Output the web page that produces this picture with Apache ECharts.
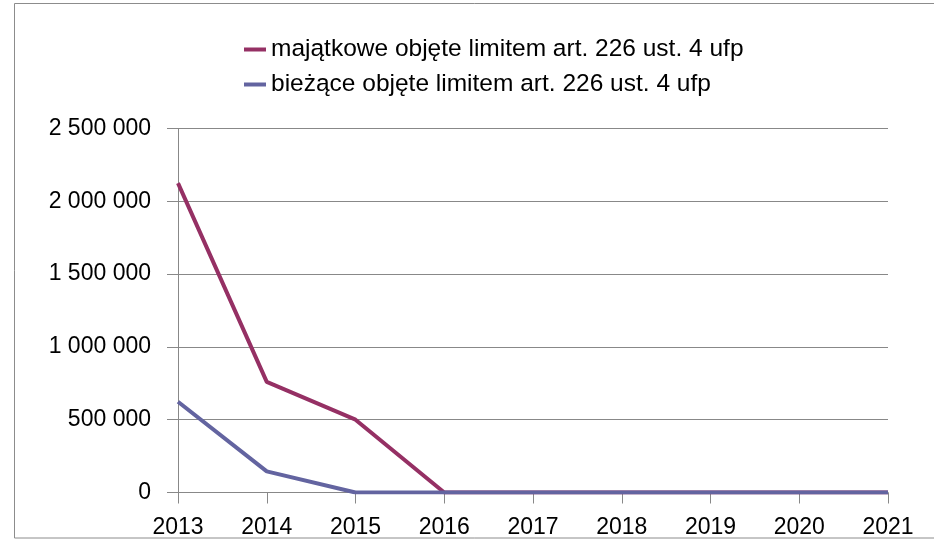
<!DOCTYPE html>
<html><head><meta charset="utf-8">
<script src="https://cdn.jsdelivr.net/npm/echarts@6/dist/echarts.min.js"></script>
<style>html,body{margin:0;padding:0;background:#fff}#c{width:934px;height:541px}</style>
</head><body><div id="c"></div>
<script>
const categories = ['2013','2014','2015','2016','2017','2018','2019','2020','2021'];
const majatkowe = [2125000, 760000, 500000, 0, 0, 0, 0, 0, 0];
const biezace = [623000, 145000, 0, 0, 0, 0, 0, 0, 0];
const seriesNames = ['majątkowe objęte limitem art. 226 ust. 4 ufp', 'bieżące objęte limitem art. 226 ust. 4 ufp'];
const yTicks = [0, 500000, 1000000, 1500000, 2000000, 2500000];

const chart = echarts.init(document.getElementById('c'));
const FONT = 'Liberation Sans';
chart.setOption({
  animation: false,
  backgroundColor: '#fff',
  graphic: [{
    type: 'rect', silent: true,
    shape: {x: 14.5, y: 3.5, width: 930, height: 534.5},
    style: {fill: 'none', stroke: '#8c8c8c', lineWidth: 1}
  }],
  legend: {
    orient: 'vertical', left: 239, top: 32,
    itemWidth: 22, itemHeight: 4, itemGap: 10,
    icon: 'rect',
    textStyle: {fontFamily: FONT, fontSize: 24.5, lineHeight: 24, color: '#000'},
    data: seriesNames
  },
  grid: {left: 178, right: 46, top: 128.5, bottom: 48.5, containLabel: false},
  xAxis: {
    type: 'category', boundaryGap: false, data: categories,
    axisLine: {lineStyle: {color: '#888', width: 1}},
    axisTick: {show: true, length: 11, alignWithLabel: true, lineStyle: {color: '#888'}},
    axisLabel: {fontFamily: FONT, fontSize: 23, color: '#000', margin: 24},
    splitLine: {show: false}
  },
  yAxis: {
    type: 'value', min: 0, max: 2500000, interval: 500000,
    axisLine: {show: true, lineStyle: {color: '#888', width: 1}},
    axisTick: {show: true, length: 11, lineStyle: {color: '#888'}},
    axisLabel: {fontFamily: FONT, fontSize: 23, color: '#000', margin: 27,
      formatter: v => yTicks.includes(v) ? String(v).replace(/\B(?=(\d{3})+(?!\d))/g, ' ') : ''},
    splitLine: {show: true, lineStyle: {color: '#888', width: 1}}
  },
  series: [
    {name: seriesNames[0], type: 'line', data: majatkowe, symbol: 'none',
     lineStyle: {color: '#953064', width: 4}, itemStyle: {color: '#953064'}, z: 3},
    {name: seriesNames[1], type: 'line', data: biezace, symbol: 'none',
     lineStyle: {color: '#6364a0', width: 4}, itemStyle: {color: '#6364a0'}, z: 4}
  ]
});
</script></body></html>
